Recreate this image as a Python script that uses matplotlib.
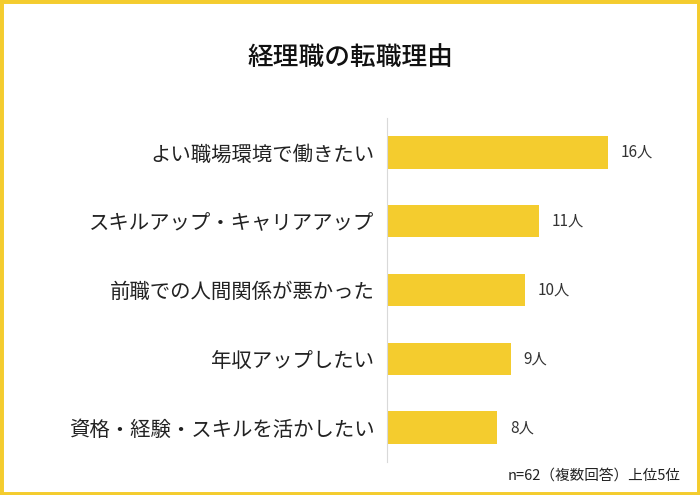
import matplotlib.pyplot as plt
from matplotlib.patches import Rectangle

plt.rcParams['font.family'] = ['Noto Sans CJK JP', 'DejaVu Sans']

reasons = ['よい職場環境で働きたい', 'スキルアップ・キャリアアップ', '前職での人間関係が悪かった',
           '年収アップしたい', '資格・経験・スキルを活かしたい']
counts = [16, 11, 10, 9, 8]

bar_color = '#F4CC2E'

fig = plt.figure(figsize=(7, 4.95), dpi=100)
fig.patches.append(Rectangle((0, 0), 1, 1, transform=fig.transFigure, fill=False,
                             edgecolor=bar_color, linewidth=5))

ax = fig.add_axes([387 / 700, 33 / 495, 276 / 700, 344 / 495])
y = list(range(len(reasons)))[::-1]
ax.barh(y, counts, height=0.47, color=bar_color)
for yi, c in zip(y, counts):
    ax.annotate(f'{c}人', (c, yi), xytext=(9, 0), textcoords='offset points',
                va='center', ha='left', fontsize=11, color='#333333')

ax.set_xlim(0, 20)
ax.set_ylim(-0.5, 4.5)
ax.set_yticks(y)
ax.set_yticklabels(reasons, fontsize=14.7, color='#222222')
ax.set_xticks([])
ax.tick_params(axis='y', length=0, pad=9)
for s in ['top', 'right', 'bottom']:
    ax.spines[s].set_visible(False)
ax.spines['left'].set_color('#d9d9d9')

fig.text(0.5, 0.884, '経理職の転職理由', ha='center', va='center', fontsize=18.5,
         fontweight='medium', color='#111111')
fig.text(0.972, 0.04, 'n=62（複数回答）上位5位', ha='right', va='center', fontsize=10.5,
         color='#222222')

fig.savefig('out.png', dpi=100)
